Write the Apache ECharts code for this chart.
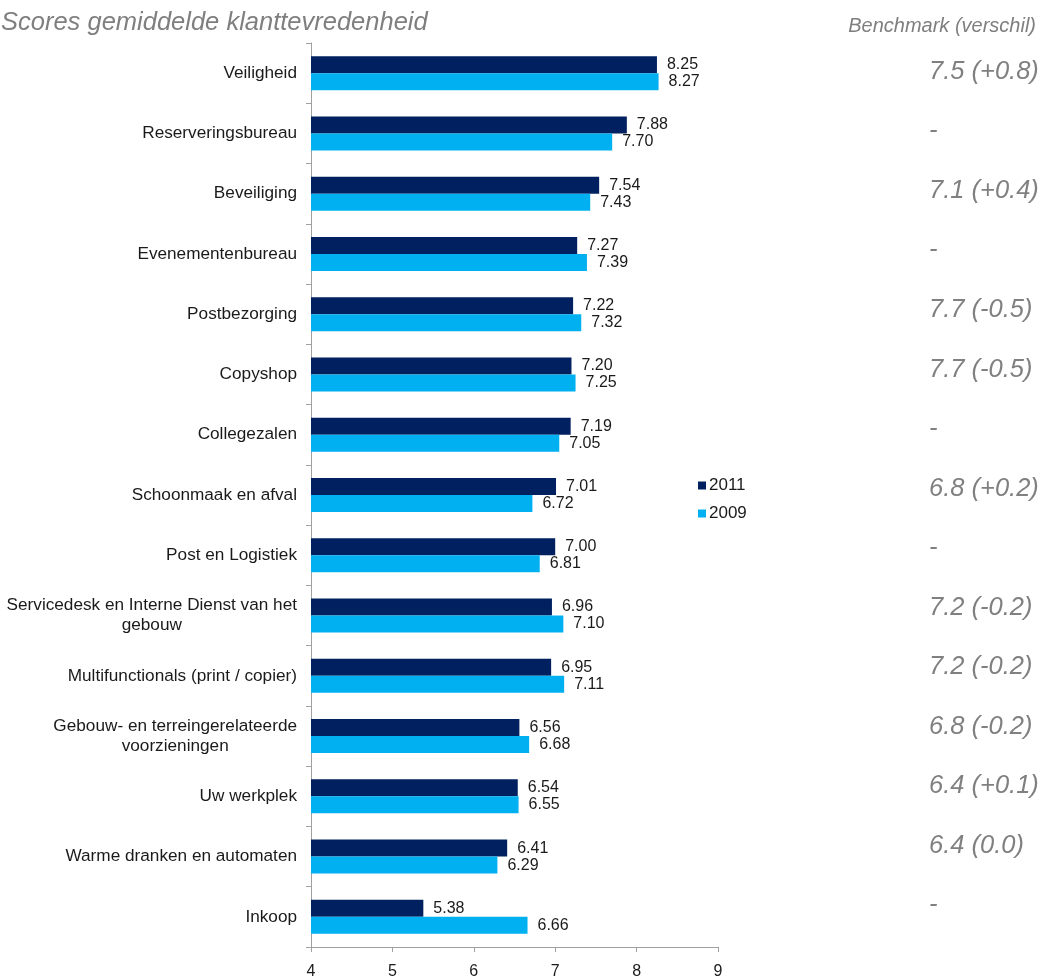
<!DOCTYPE html>
<html><head><meta charset="utf-8">
<script src="https://cdn.jsdelivr.net/npm/echarts@6/dist/echarts.min.js"></script>
<style>html,body{margin:0;padding:0;background:#fff}#c{width:1044px;height:980px}</style>
</head><body><div id="c"></div>
<script>
const categories = ["Veiligheid","Reserveringsbureau","Beveiliging","Evenementenbureau","Postbezorging","Copyshop","Collegezalen","Schoonmaak en afval","Post en Logistiek","Servicedesk en Interne Dienst van het\ngebouw","Multifunctionals (print / copier)","Gebouw- en terreingerelateerde\nvoorzieningen","Uw werkplek","Warme dranken en automaten","Inkoop"];
const values2011 = [8.25,7.88,7.54,7.27,7.22,7.20,7.19,7.01,7.00,6.96,6.95,6.56,6.54,6.41,5.38];
const values2009 = [8.27,7.70,7.43,7.39,7.32,7.25,7.05,6.72,6.81,7.10,7.11,6.68,6.55,6.29,6.66];
const benchmarks = ["7.5 (+0.8)","-","7.1 (+0.4)","-","7.7 (-0.5)","7.7 (-0.5)","-","6.8 (+0.2)","-","7.2 (-0.2)","7.2 (-0.2)","6.8 (-0.2)","6.4 (+0.1)","6.4 (0.0)","-"];
const xTicks = [4,5,6,7,8,9];
const seriesNames = ["2011","2009"];
const titleText = "Scores gemiddelde klanttevredenheid";
const benchHeader = "Benchmark (verschil)";

const FONT = "'Liberation Sans', Arial, sans-serif";
const chart = echarts.init(document.getElementById('c'));
const lbl = {show:true, position:'right', distance:10, color:'#1a1a1a', fontSize:16, fontFamily:FONT, formatter: p => p.value.toFixed(2)};
chart.setOption({
  animation:false,
  title:[
    {text:titleText, left:-4, top:5, textStyle:{fontSize:25.5, fontStyle:'italic', fontWeight:'normal', color:'#7f7f7f', fontFamily:FONT}},
    {text:benchHeader, right:3, top:11, textStyle:{fontSize:20, fontStyle:'italic', fontWeight:'normal', color:'#7f7f7f', fontFamily:FONT}}
  ],
  legend:{orient:'vertical', left:693, top:472, itemWidth:8, itemHeight:8, itemGap:11, icon:'rect',
    textStyle:{fontSize:17, color:'#1a1a1a', fontFamily:FONT, padding:[0,0,0,-2]}, data:seriesNames},
  grid:[
    {left:311, right:326, top:43, bottom:33, containLabel:false},
    {left:311, right:115, top:42, bottom:45, containLabel:false}
  ],
  xAxis:[
    {type:'value', gridIndex:0, min:xTicks[0], max:xTicks[xTicks.length-1], interval:1,
     splitLine:{show:false},
     axisLine:{show:true, lineStyle:{color:'#a0a0a0', width:1}},
     axisTick:{show:true, length:5, lineStyle:{color:'#a0a0a0'}},
     axisLabel:{fontSize:16, color:'#1a1a1a', fontFamily:FONT, margin:17}},
    {type:'value', gridIndex:1, min:0, max:1, show:false}
  ],
  yAxis:[
    {type:'category', gridIndex:0, data:categories, inverse:true,
     axisLine:{show:true, lineStyle:{color:'#a0a0a0', width:1}},
     axisTick:{show:true, length:5, lineStyle:{color:'#a0a0a0'}},
     axisLabel:{fontSize:17.2, color:'#1a1a1a', fontFamily:FONT, margin:14, lineHeight:20,
       formatter: v => v.split('\n').map(s => '{c|' + s + '}').join('\n'),
       rich:{c:{align:'center', fontSize:17.2, color:'#1a1a1a', fontFamily:FONT, lineHeight:20}}}},
    {type:'category', gridIndex:1, data:benchmarks, inverse:true, position:'right',
     axisLine:{show:false}, axisTick:{show:false},
     axisLabel:{inside:false, margin:0, fontSize:25.5, fontStyle:'italic', color:'#808080', fontFamily:FONT}}
  ],
  series:[
    {name:seriesNames[0], type:'bar', xAxisIndex:0, yAxisIndex:0, data:values2011, barWidth:17, barGap:'0%',
     itemStyle:{color:'#00205f'}, label:lbl},
    {name:seriesNames[1], type:'bar', xAxisIndex:0, yAxisIndex:0, data:values2009, barWidth:17, barGap:'0%',
     itemStyle:{color:'#00b0f0'}, label:lbl}
  ]
});
</script></body></html>
